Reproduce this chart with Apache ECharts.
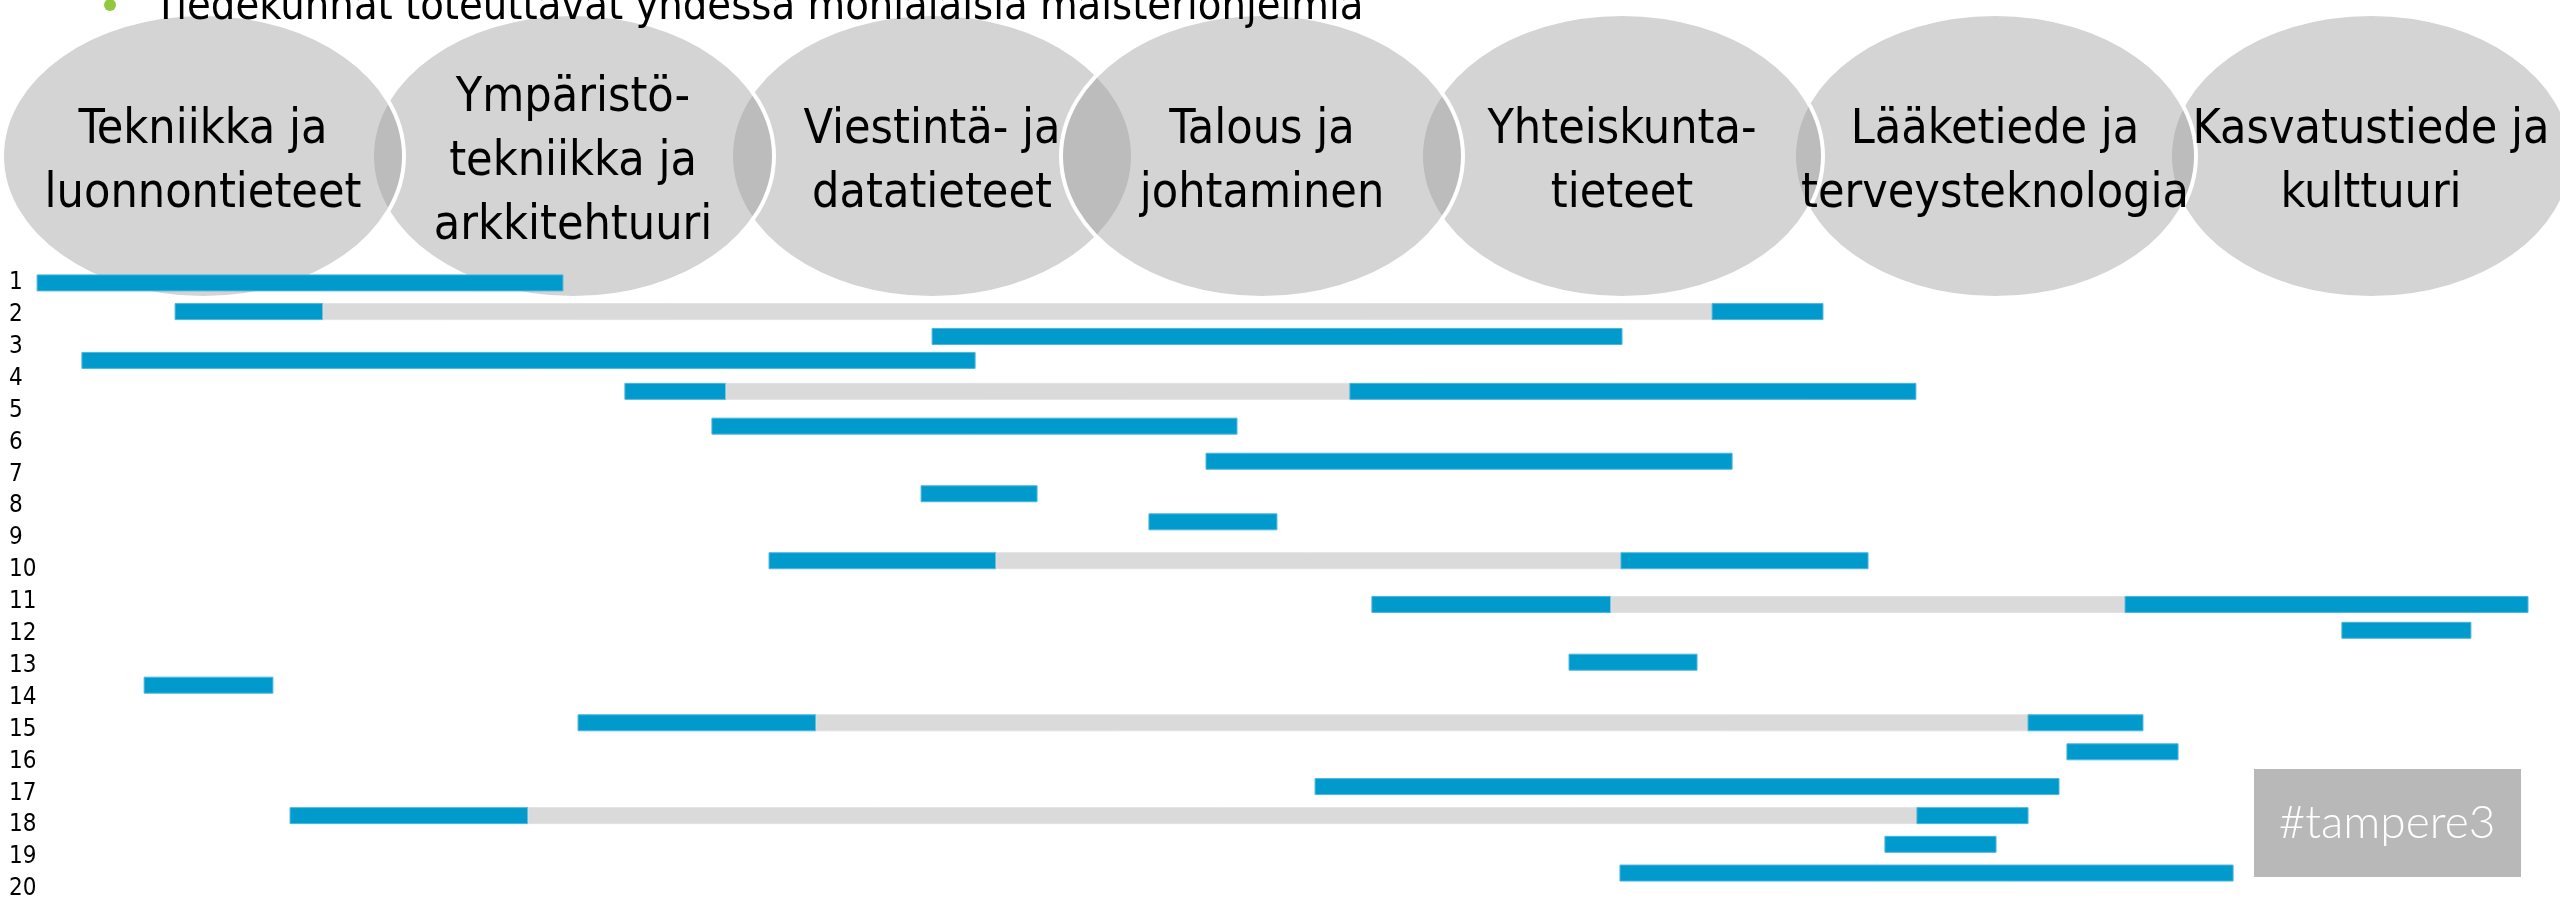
<!DOCTYPE html>
<html>
<head>
<meta charset="utf-8">
<script src="https://cdn.jsdelivr.net/npm/echarts@6/dist/echarts.min.js"></script>
<style>
html,body{margin:0;padding:0;background:#ffffff;}
#chart{width:2560px;height:901px;}
</style>
</head>
<body>
<div id="chart"></div>
<script>
// ---- data ----
const titleText = 'Tiedekunnat toteuttavat yhdessä monialaisia maisteriohjelmia';
const faculties = [
  'Tekniikka ja\nluonnontieteet',
  'Ympäristö-\ntekniikka ja\narkkitehtuuri',
  'Viestintä- ja\ndatatieteet',
  'Talous ja\njohtaminen',
  'Yhteiskunta-\ntieteet',
  'Lääketiede ja\nterveysteknologia',
  'Kasvatustiede ja\nkulttuuri'
];
const rowLabels = ['1','2','3','4','5','6','7','8','9','10','11','12','13','14','15','16','17','18','19','20'];
// vertical position of each programme bar, in row-label units
const barRowPos = [1.00, 1.90, 2.68, 3.43, 4.40, 5.49, 6.59, 7.61, 8.49, 9.71,
                   11.08, 11.89, 12.89, 13.61, 14.79, 15.70, 16.79, 17.70, 18.60, 19.50];
// segment boundaries along the faculty scale (0-100); segments alternate blue / grey / blue
const barBounds = [
  [1.45, 21.99],
  [6.84, 12.62, 66.88, 71.21],
  [36.41, 63.36],
  [3.20, 38.09],
  [24.41, 28.36, 52.73, 74.84],
  [27.81, 48.32],
  [47.11, 67.66],
  [35.98, 40.51],
  [44.88, 49.88],
  [30.04, 38.91, 63.32, 72.97],
  [53.59, 62.93, 83.01, 98.75],
  [91.48, 96.52],
  [61.29, 66.29],
  [5.63, 10.66],
  [22.58, 31.88, 79.22, 83.71],
  [80.74, 85.08],
  [51.37, 80.43],
  [11.33, 20.63, 74.88, 79.22],
  [73.63, 77.97],
  [63.28, 87.23]
];
const logoText = '#tampere3';

// ---- build series data ----
const segData = [];
barBounds.forEach((b, i) => {
  for (let j = 0; j < b.length - 1; j++) {
    segData.push([b[j], b[j + 1], barRowPos[i], j % 2]);
  }
});

// ---- layout / style ----
const FONT = '"DejaVu Sans Condensed", "DejaVu Sans", sans-serif';
const ellipseCx = [203, 573, 932, 1262, 1622, 1995, 2371];
const ellipseZ = [3, 2, 1, 4, 3, 2, 1];
const graphics = [];
faculties.forEach((name, i) => {
  graphics.push({
    type: 'ellipse', z: ellipseZ[i], silent: true,
    shape: { cx: ellipseCx[i], cy: 156, rx: 201, ry: 142 },
    style: { fill: 'rgba(157,157,157,0.44)', stroke: '#ffffff', lineWidth: 4 }
  });
  graphics.push({
    type: 'text', z: 20, silent: true,
    x: ellipseCx[i], y: 163,
    style: {
      text: name, font: '48px ' + FONT, fill: '#000000',
      align: 'center', verticalAlign: 'middle',
      textAlign: 'center', textVerticalAlign: 'middle',
      lineHeight: 64
    }
  });
});
graphics.push({
  type: 'circle', z: 20, silent: true,
  shape: { cx: 110, cy: 5, r: 6 },
  style: { fill: '#92c83e' }
});
graphics.push({
  type: 'text', z: 20, silent: true,
  x: 154, y: 8,
  style: {
    text: titleText, font: '43px ' + FONT, fill: '#000000',
    align: 'left', verticalAlign: 'middle', textAlign: 'left', textVerticalAlign: 'middle'
  }
});
graphics.push({
  type: 'rect', z: 20, silent: true,
  shape: { x: 2254, y: 769, width: 267, height: 108 },
  style: { fill: '#b9b8b9' }
});
graphics.push({
  type: 'text', z: 21, silent: true,
  x: 2387, y: 823,
  style: {
    text: logoText, font: '300 46px Lato, "Open Sans", sans-serif', fill: '#ffffff',
    align: 'center', verticalAlign: 'middle', textAlign: 'center', textVerticalAlign: 'middle'
  }
});

const chart = echarts.init(document.getElementById('chart'), null, { renderer: 'canvas' });
chart.setOption({
  backgroundColor: '#ffffff',
  animation: false,
  grid: { left: 0, right: 0, top: 251, bottom: 9 },
  xAxis: { type: 'value', min: 0, max: 100, show: false },
  yAxis: {
    type: 'value', min: 0, max: 20, interval: 1, inverse: true,
    axisLine: { show: false }, axisTick: { show: false }, splitLine: { show: false },
    axisLabel: {
      inside: true, margin: 9, align: 'left',
      fontFamily: FONT, fontSize: 24, color: '#000000',
      formatter: v => (v >= 1 && v <= rowLabels.length) ? rowLabels[v - 1] : ''
    }
  },
  graphic: graphics,
  series: [{
    type: 'custom',
    z: 30,
    encode: { x: [0, 1], y: 2 },
    data: segData,
    renderItem: function (params, api) {
      const s = api.coord([api.value(0), api.value(2)]);
      const e = api.coord([api.value(1), api.value(2)]);
      const h = 16;
      const grey = api.value(3) === 1;
      return {
        type: 'rect',
        shape: { x: s[0], y: s[1] - h / 2, width: e[0] - s[0], height: h },
        style: {
          fill: grey ? '#dadada' : '#009acd',
          stroke: grey ? '#e2e2e2' : '#4cb6dc',
          lineWidth: 1
        }
      };
    }
  }]
});
</script>
</body>
</html>
